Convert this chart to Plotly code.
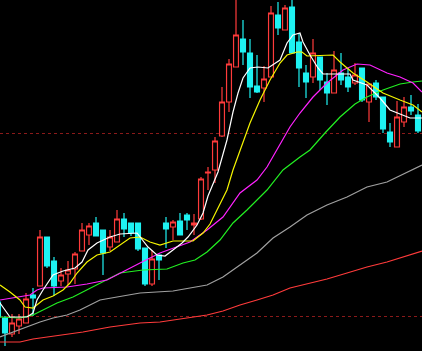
import plotly.graph_objects as go

# ---- candle data (index = trading day in view) ----
opens = [9.8, 8.2, 6.6, 7.4, 7.7, 10.5, 11.4, 16.3, 13.9, 11.9,
         12.6, 13.1, 14.9, 16.5, 17.7, 17.0, 15.3, 15.8, 18.1, 17.7,
         17.7, 15.2, 11.6, 14.5, 17.7, 17.3, 17.9, 18.5, 17.5, 18.1,
         22.7, 23.0, 26.4, 29.8, 33.3, 36.1, 34.7, 31.4, 31.2, 32.3,
         38.5, 37.0, 39.3, 35.8, 32.7, 32.3, 34.3, 31.8, 30.7, 32.7,
         32.3, 31.7, 33.2, 29.8, 31.7, 30.3, 26.8, 25.3, 27.8, 29.3, 28.5]
highs = [10.0, 8.4, 8.6, 8.6, 10.7, 11.2, 17.0, 16.3, 14.3, 13.2,
         13.9, 14.8, 17.7, 17.7, 18.3, 17.0, 17.0, 19.0, 18.7, 17.7,
         17.7, 15.2, 15.0, 14.5, 18.3, 18.0, 18.7, 18.7, 18.6, 22.3,
         23.3, 26.3, 31.3, 34.1, 40.5, 38.0, 36.1, 34.5, 33.4, 39.4,
         39.8, 39.5, 40.3, 36.7, 33.5, 36.1, 34.3, 32.7, 34.9, 34.7,
         33.2, 33.7, 33.2, 31.6, 32.0, 30.3, 27.7, 29.9, 30.3, 30.5, 29.6]
lows = [8.0, 5.4, 6.3, 6.6, 7.7, 8.4, 11.4, 13.2, 10.4, 11.4,
        11.5, 11.6, 14.9, 15.5, 16.4, 12.5, 14.9, 15.8, 16.3, 16.4,
        14.9, 11.4, 11.4, 12.0, 15.2, 16.0, 16.5, 17.0, 16.5, 18.0,
        21.0, 21.7, 26.3, 28.8, 33.3, 33.5, 30.2, 30.7, 29.8, 32.3,
        36.5, 37.0, 34.7, 31.3, 30.2, 31.7, 31.0, 29.5, 30.7, 31.5,
        30.8, 31.5, 29.8, 27.8, 30.0, 26.7, 25.3, 25.3, 27.3, 28.5, 26.7]
closes = [8.3, 6.7, 7.7, 8.1, 10.1, 10.2, 16.3, 13.4, 11.4, 12.5,
          13.0, 14.6, 17.0, 17.4, 16.4, 14.7, 16.3, 18.1, 17.1, 16.7,
          15.1, 11.6, 14.1, 14.0, 17.1, 17.8, 16.5, 18.0, 17.7, 22.1,
          22.8, 25.9, 29.8, 33.6, 36.5, 34.8, 31.3, 30.8, 32.1, 38.7,
          37.2, 39.2, 34.7, 33.2, 31.8, 34.7, 32.0, 30.7, 33.0, 32.0,
          31.3, 32.5, 30.0, 31.6, 30.3, 27.1, 25.8, 28.3, 29.3, 28.9, 26.9]
days = list(range(len(opens)))

# ---- moving averages (position in days, value) ----
ma5_x = [0.29, 1.71, 4.14, 5.0, 5.57, 6.43, 7.86, 9.29, 11.0, 12.0, 12.86, 14.14, 16.0,
         17.43, 19.86, 21.43, 22.71, 23.86, 25.0, 26.29, 27.14, 28.43, 29.29, 30.0, 31.43,
         32.71, 33.57, 34.29, 35.0, 36.0, 37.14, 38.57, 40.29, 41.29, 42.14, 43.14, 43.57,
         44.57, 45.71, 46.43, 50.29, 50.71, 52.71, 54.57, 56.0, 57.43, 58.86, 60.57]
ma5_y = [9.7, 8.3, 8.3, 8.7, 10.0, 11.0, 12.5, 12.9, 13.2, 13.8, 15.0, 15.7, 16.3,
         16.6, 16.7, 15.3, 14.5, 14.4, 15.0, 15.7, 16.3, 17.5, 18.7, 20.4, 22.8,
         26.0, 28.8, 30.7, 32.2, 33.2, 33.3, 33.2, 34.0, 35.7, 36.5, 36.7, 35.8,
         34.5, 33.2, 32.6, 32.6, 32.0, 31.5, 30.2, 29.0, 28.6, 28.2, 28.2]

ma10_x = [0.29, 1.71, 3.14, 3.86, 5.0, 6.43, 7.86, 9.29, 10.29, 11.29, 12.71, 14.14, 16.0,
          17.43, 18.86, 20.29, 21.71, 23.14, 25.0, 27.86, 29.29, 30.29, 31.29, 32.71, 33.57,
          34.57, 36.0, 37.43, 38.86, 40.29, 41.29, 42.71, 43.43, 44.14, 47.86, 48.86, 50.71,
          52.71, 55.0, 57.43, 59.29, 60.57]
ma10_y = [11.5, 10.8, 10.0, 9.3, 9.2, 10.0, 10.4, 11.0, 11.7, 12.7, 13.8, 14.5, 14.8,
          15.5, 16.2, 16.3, 15.8, 15.5, 15.9, 15.9, 16.7, 17.6, 19.0, 21.0, 23.0,
          25.0, 27.7, 30.0, 32.0, 33.7, 34.5, 34.8, 34.8, 34.4, 34.5, 33.8, 32.7,
          31.8, 30.7, 30.0, 29.5, 28.8]

ma20_x = [0.29, 3.14, 4.57, 5.57, 6.43, 9.86, 12.71, 15.57, 17.43, 20.29, 23.14, 25.0,
          27.43, 29.86, 32.14, 34.57, 37.0, 38.43, 39.86, 41.71, 43.14, 45.0, 47.0, 49.29,
          51.29, 53.14, 55.57, 57.43, 59.29, 60.57]
ma20_y = [10.0, 10.3, 10.5, 11.0, 11.2, 11.3, 11.6, 12.0, 12.7, 13.7, 14.7, 15.2,
          15.8, 17.0, 18.3, 20.7, 22.0, 23.3, 25.0, 27.3, 28.7, 30.3, 31.7, 33.0,
          33.6, 33.5, 32.7, 32.3, 31.7, 30.8]

ma30_x = [0.29, 3.14, 5.0, 6.43, 8.43, 10.71, 13.57, 16.29, 17.43, 20.71, 24.14, 26.43,
          28.14, 29.86, 31.71, 33.57, 35.57, 38.43, 40.71, 43.14, 44.57, 46.71, 48.86,
          51.0, 52.71, 55.0, 57.43, 59.29, 60.57]
ma30_y = [8.3, 8.2, 8.5, 9.0, 9.7, 10.3, 11.3, 12.3, 12.7, 13.0, 13.1, 13.7,
          14.0, 14.8, 16.0, 17.7, 19.0, 21.0, 23.0, 24.3, 25.0, 26.7, 28.3,
          29.6, 30.3, 31.0, 31.6, 31.8, 31.9]

ma60_x = [0.29, 2.14, 4.14, 6.0, 7.86, 9.86, 11.71, 13.57, 14.57, 17.0, 20.29, 25.0, 27.43,
          29.86, 32.14, 34.57, 37.0, 39.29, 41.71, 44.14, 47.0, 49.86, 52.71, 55.57,
          58.43, 60.57]
ma60_y = [6.3, 6.8, 7.3, 7.8, 8.2, 8.5, 9.0, 9.7, 10.0, 10.3, 10.7, 10.9, 11.2,
          11.5, 12.3, 13.5, 14.7, 16.2, 17.3, 18.5, 19.5, 20.3, 21.3, 21.8,
          22.8, 23.5]

ma120_x = [0.29, 3.14, 5.0, 7.0, 9.86, 12.14, 16.0, 20.29, 23.14, 27.43, 29.86, 32.14,
           34.57, 37.0, 39.29, 41.71, 44.14, 47.0, 49.86, 52.71, 55.57, 58.43, 60.57]
ma120_y = [5.8, 5.8, 6.1, 6.3, 6.6, 6.8, 7.3, 7.7, 7.8, 8.2, 8.5, 8.9,
           9.5, 10.0, 10.5, 11.2, 11.6, 12.1, 12.7, 13.3, 13.8, 14.4, 14.9]

grid_levels = [8.4, 26.7]

UP = "#FF3B3B"
DOWN = "#1EF2F2"

fig = go.Figure()
fig.add_trace(go.Candlestick(
    x=days, open=opens, high=highs, low=lows, close=closes,
    increasing=dict(line=dict(color=UP, width=1.2), fillcolor="#000000"),
    decreasing=dict(line=dict(color=DOWN, width=1.2), fillcolor=DOWN),
    whiskerwidth=0, hoverinfo="skip", showlegend=False,
))

lines = [
    (ma120_x, ma120_y, "#FF3B3B"),
    (ma60_x, ma60_y, "#A0A0A0"),
    (ma30_x, ma30_y, "#22F022"),
    (ma20_x, ma20_y, "#FF22FF"),
    (ma10_x, ma10_y, "#F5F500"),
    (ma5_x, ma5_y, "#FFFFFF"),
]
for xs, ys, col in lines:
    fig.add_trace(go.Scatter(x=xs, y=ys, mode="lines",
                             line=dict(color=col, width=1.2),
                             hoverinfo="skip", showlegend=False))

fig.update_layout(
    width=422, height=351,
    margin=dict(l=0, r=0, t=0, b=0),
    paper_bgcolor="#000000", plot_bgcolor="#000000",
    showlegend=False,
    boxgap=0.3, boxgroupgap=0,
    xaxis=dict(range=[0.2857, 60.571], showgrid=False, zeroline=False,
               showticklabels=False, ticks="", rangeslider=dict(visible=False),
               fixedrange=True),
    yaxis=dict(range=[4.9, 40.0], tickvals=grid_levels, showgrid=True,
               gridcolor="#8B1A1A", griddash="dot", gridwidth=1,
               zeroline=False, showticklabels=False, ticks="", fixedrange=True),
)

fig.write_html("out.html", config={"displayModeBar": False})
